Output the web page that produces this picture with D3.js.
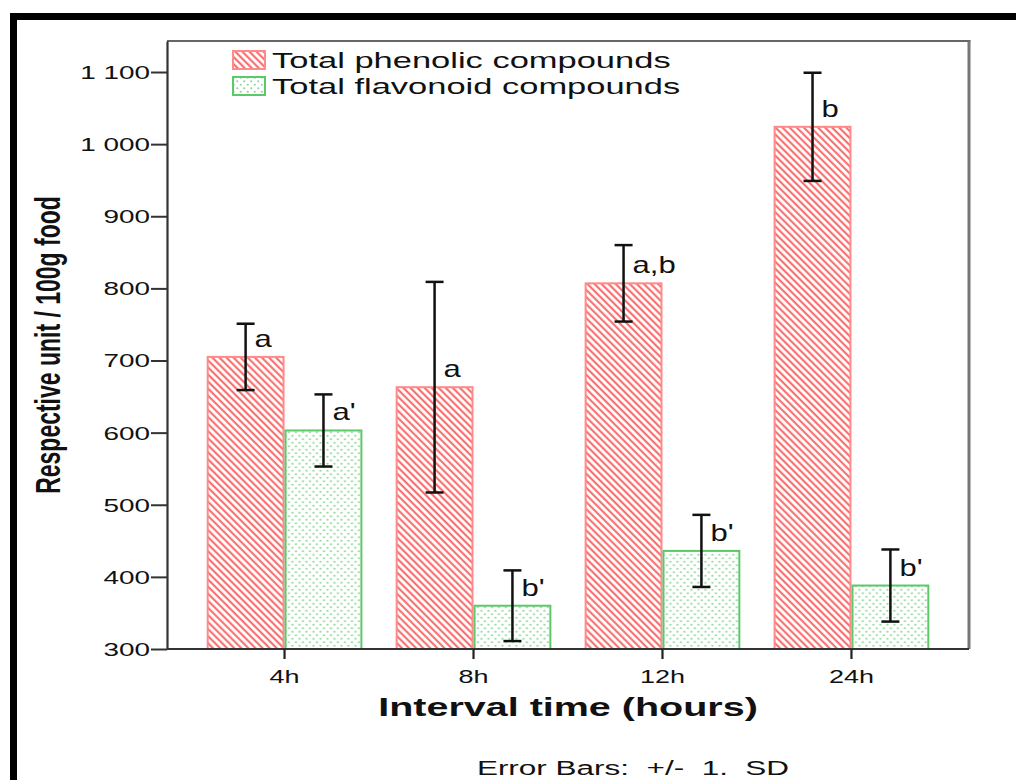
<!DOCTYPE html>
<html>
<head>
<meta charset="utf-8">
<script src="https://cdn.jsdelivr.net/npm/d3@7"></script>
<style>
  html, body { margin: 0; padding: 0; background: #fff; }
  svg { display: block; }
  text { font-family: "Liberation Sans", Arial, sans-serif; fill: #111; }
</style>
</head>
<body>
<svg id="chart" width="1016" height="780"></svg>
<script>
// Sampling interval and the two measured compound groups
const categories = ["4h", "8h", "12h", "24h"];
const seriesNames = ["Total phenolic compounds", "Total flavonoid compounds"];
const phenolicMean = [705, 663, 807, 1024];
const phenolicSD = [46, 146, 53, 75];
const flavonoidMean = [603, 360, 436, 388];
const flavonoidSD = [50, 49, 50, 50];
const phenolicLetters = ["a", "a", "a,b", "b"];
const flavonoidLetters = ["a'", "b'", "b'", "b'"];
const yTickValues = [300, 400, 500, 600, 700, 800, 900, 1000, 1100];
const yTickLabels = ["300", "400", "500", "600", "700", "800", "900", "1 000", "1 100"];

const svg = d3.select("#chart");

// page frame
svg.append("rect").attr("x", 13.5).attr("y", 16.5).attr("width", 1100).attr("height", 800)
  .attr("fill", "none").attr("stroke", "#000").attr("stroke-width", 7);

const plot = { left: 167, right: 969, top: 41, bottom: 649 };

const y = d3.scaleLinear().domain([300, 1143]).range([plot.bottom, plot.top]);
const x0 = d3.scaleBand().domain(categories).range([plot.left, plot.right])
  .paddingInner(0.176).paddingOuter(0.21);
const x1 = d3.scaleBand().domain(seriesNames).range([0, x0.bandwidth()]);

// fill patterns: red diagonal hatch, green staggered dots
const defs = svg.append("defs");
const hatch = defs.append("pattern").attr("id", "hatch").attr("patternUnits", "userSpaceOnUse")
  .attr("width", 5).attr("height", 5).attr("patternTransform", "rotate(-45)");
hatch.append("rect").attr("width", 5).attr("height", 5).attr("fill", "#fff");
hatch.append("line").attr("x1", 1.2).attr("y1", 0).attr("x2", 1.2).attr("y2", 5)
  .attr("stroke", "#f76464").attr("stroke-width", 2);

const dots = defs.append("pattern").attr("id", "dots").attr("patternUnits", "userSpaceOnUse")
  .attr("width", 7).attr("height", 7);
dots.append("rect").attr("width", 7).attr("height", 7).attr("fill", "#fff");
dots.append("circle").attr("cx", 1.75).attr("cy", 1.75).attr("r", 1.1).attr("fill", "#8ed99a");
dots.append("circle").attr("cx", 5.25).attr("cy", 5.25).attr("r", 1.1).attr("fill", "#8ed99a");

const fills = ["url(#hatch)", "url(#dots)"];
const strokes = ["#ff8a8a", "#5cc86a"];

const rows = categories.map((c, i) => ({
  cat: c,
  values: [
    { s: seriesNames[0], mean: phenolicMean[i], sd: phenolicSD[i], letter: phenolicLetters[i], k: 0 },
    { s: seriesNames[1], mean: flavonoidMean[i], sd: flavonoidSD[i], letter: flavonoidLetters[i], k: 1 }
  ]
}));

const groups = svg.append("g").selectAll("g").data(rows).join("g")
  .attr("transform", d => `translate(${x0(d.cat)},0)`);

groups.selectAll("rect").data(d => d.values).join("rect")
  .attr("x", d => x1(d.s) + 1)
  .attr("y", d => y(d.mean))
  .attr("width", x1.bandwidth() - 2)
  .attr("height", d => y(300) - y(d.mean))
  .attr("fill", d => fills[d.k])
  .attr("stroke", d => strokes[d.k])
  .attr("stroke-width", 2);

// error bars (mean ± 1 SD)
const cap = 9;
const cx = d => x1(d.s) + x1.bandwidth() / 2;
const eb = groups.selectAll("g.eb").data(d => d.values).join("g").attr("class", "eb");
eb.append("line")
  .attr("x1", cx).attr("x2", cx)
  .attr("y1", d => y(d.mean + d.sd)).attr("y2", d => y(d.mean - d.sd))
  .attr("stroke", "#111").attr("stroke-width", 2.5);
eb.append("line")
  .attr("x1", d => cx(d) - cap).attr("x2", d => cx(d) + cap)
  .attr("y1", d => y(d.mean + d.sd)).attr("y2", d => y(d.mean + d.sd))
  .attr("stroke", "#111").attr("stroke-width", 2.5);
eb.append("line")
  .attr("x1", d => cx(d) - cap).attr("x2", d => cx(d) + cap)
  .attr("y1", d => y(d.mean - d.sd)).attr("y2", d => y(d.mean - d.sd))
  .attr("stroke", "#111").attr("stroke-width", 2.5);

// significance letters
eb.append("text")
  .attr("transform", d => `translate(${cx(d) + 9},${y(d.mean) - 10}) scale(1.35,1)`)
  .attr("font-size", 23)
  .text(d => d.letter);

// plot frame
svg.append("line").attr("x1", plot.left).attr("x2", plot.right + 1.5).attr("y1", plot.top).attr("y2", plot.top)
  .attr("stroke", "#333").attr("stroke-width", 1.5);
svg.append("line").attr("x1", plot.right).attr("x2", plot.right).attr("y1", plot.top).attr("y2", plot.bottom)
  .attr("stroke", "#777").attr("stroke-width", 3);

// axes
const yAxis = svg.append("g").attr("transform", `translate(${plot.left},0)`)
  .call(d3.axisLeft(y).tickValues(yTickValues).tickFormat((d, i) => yTickLabels[i]).tickSize(16).tickSizeOuter(0));
yAxis.select(".domain").attr("stroke", "#333").attr("stroke-width", 2.2);
yAxis.selectAll(".tick line").attr("stroke", "#333").attr("stroke-width", 2);
yAxis.selectAll(".tick text")
  .attr("font-size", 18).attr("font-family", "Liberation Sans, Arial, sans-serif").attr("fill", "#222")
  .attr("x", 0).attr("dy", "0.36em")
  .attr("transform", "translate(-17,0) scale(1.55,1)");

const xAxis = svg.append("g").attr("transform", `translate(0,${plot.bottom})`)
  .call(d3.axisBottom(x0).tickSize(10).tickSizeOuter(0));
xAxis.select(".domain").attr("stroke", "#333").attr("stroke-width", 2.2)
  .attr("d", `M${plot.left},0H${plot.right}`);
xAxis.selectAll(".tick line").attr("stroke", "#222").attr("stroke-width", 2.2);
xAxis.selectAll(".tick text")
  .attr("font-size", 18).attr("font-family", "Liberation Sans, Arial, sans-serif").attr("fill", "#222")
  .attr("y", 0).attr("dy", 0)
  .attr("transform", "translate(0,34) scale(1.5,1)");

// axis titles
svg.append("text")
  .attr("transform", `translate(60,345) scale(1.55,1) rotate(-90)`)
  .attr("text-anchor", "middle").attr("font-weight", "bold").attr("font-size", 23)
  .text("Respective unit / 100g food");

svg.append("text")
  .attr("transform", `translate(568,716) scale(1.58,1)`)
  .attr("text-anchor", "middle").attr("font-weight", "bold").attr("font-size", 25)
  .text("Interval time (hours)");

svg.append("text")
  .attr("transform", `translate(633,775) scale(1.5,1)`)
  .attr("text-anchor", "middle").attr("font-size", 21)
  .style("white-space", "pre")
  .text("Error Bars:  +/-  1.  SD");

// legend
const legend = svg.append("g").selectAll("g").data(seriesNames).join("g")
  .attr("transform", (d, i) => `translate(232,${50 + i * 26})`);
legend.append("rect").attr("x", 1).attr("y", 1).attr("width", 32).attr("height", 18)
  .attr("fill", (d, i) => fills[i]).attr("stroke", (d, i) => strokes[i]).attr("stroke-width", 2);
legend.append("text")
  .attr("transform", "translate(40,18) scale(1.5,1)")
  .attr("font-size", 23)
  .text(d => d);
</script>
</body>
</html>
